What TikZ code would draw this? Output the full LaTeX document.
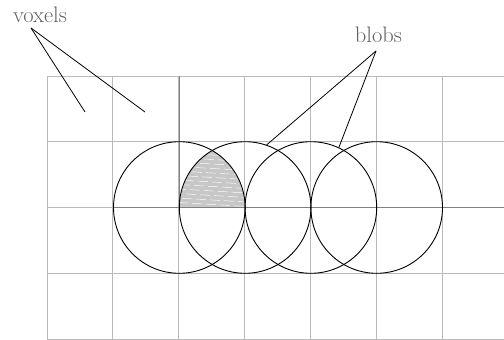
\documentclass[tikz,border=0pt]{standalone}
\begin{document}
\begin{tikzpicture}[x=1pt,y=-1pt,
  gridline/.style={draw=black!27,line width=1pt},
  axisline/.style={draw=black!50,line width=1.1pt},
  blob/.style={circle,draw=black,line width=0.9pt,minimum size=131.6pt,inner sep=0pt},
  pointer/.style={draw=black,line width=0.8pt},
  lbl/.style={text=black!62,font=\fontsize{22.5}{25}\selectfont,inner sep=0pt,anchor=base}]
\useasboundingbox (0,0) rectangle (504,340);
% grid
\foreach \i in {0,...,6} \draw[gridline] (47+65.95*\i,76) -- (47+65.95*\i,339);
\foreach \j in {0,...,4} \draw[gridline] (47,76+65.75*\j) -- (504,76+65.75*\j);
% shaded lens (upper half of intersection of first two blobs)
\begin{scope}
  \clip (179.3,207.5) circle (65.8);
  \clip (179.3,140) rectangle (245.3,207.5);
  \fill[black!22] (245.3,207.5) circle (65.8);
  \foreach \k in {0,...,13}
    \draw[white,line width=0.45pt,dash pattern=on 10pt off 4pt,dash phase=\k*4pt] (170,148+4.5*\k) -- (255,153+4.5*\k);
\end{scope}
% darker axes
\draw[axisline] (179.3,76) -- (179.3,207.5);
\draw[axisline] (113.3,207.5) -- (504,207.5);
% blobs
\node[blob] (b1) at (179.3,207.5) {};
\node[blob] (b2) at (245.1,207.5) {};
\node[blob] (b3) at (310.9,207.5) {};
\node[blob] (b4) at (376.7,207.5) {};
% labels
\node[lbl] (voxels) at (40,22) {voxels};
\node[lbl] (blobs) at (378.5,42) {blobs};
\coordinate (vs) at (31,28);
\coordinate (bs) at (376,51);
\coordinate (v1) at (85,112);
\coordinate (v2) at (145,112);
\draw[pointer] (vs) -- (v1);
\draw[pointer] (vs) -- (v2);
\draw[pointer] (bs) -- (b2.71);
\draw[pointer] (bs) -- (b3.65);
\end{tikzpicture}
\end{document}
